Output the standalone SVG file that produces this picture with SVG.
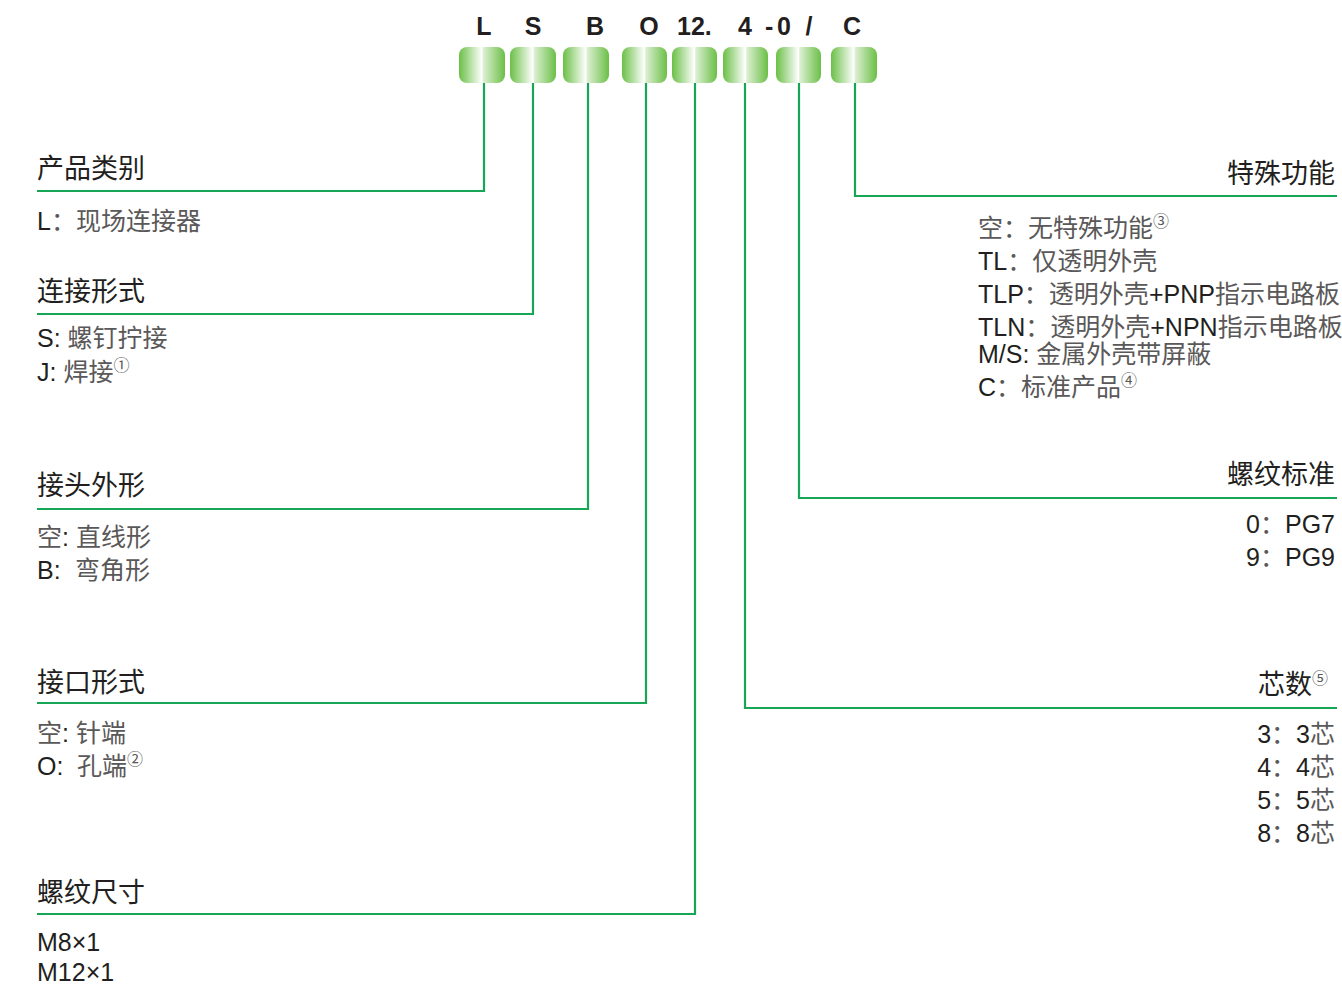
<svg xmlns="http://www.w3.org/2000/svg" width="1342" height="984" viewBox="0 0 1342 984">
<style>
.code{font-family:"Liberation Sans",Arial,sans-serif;font-weight:bold;font-size:25px;fill:#231f20}
.h{font-family:"Liberation Sans","Noto Sans CJK SC",sans-serif;font-size:27px;fill:#231f20}
.it{font-family:"Liberation Sans","Noto Sans CJK SC",sans-serif;font-size:25px;fill:#231f20}
.cj{fill:#5a5858}
.sup{font-size:16px;fill:#5a5858}
.r{text-anchor:end}
.ln{fill:none;stroke:#17a556;stroke-width:2.2}
.box{fill:url(#g)}
</style>
<defs>
<linearGradient id="g" x1="0" y1="0" x2="1" y2="0">
<stop offset="0" stop-color="#6bbf47"/>
<stop offset="0.5" stop-color="#ffffff"/>
<stop offset="0.53" stop-color="#dcefd2"/>
<stop offset="1" stop-color="#6bbf47"/>
</linearGradient>
</defs>

<g id="codes">
<g id="c1"><rect class="box" x="459" y="47" width="46" height="36" rx="8"/><text class="code" x="484" y="35" text-anchor="middle">L</text></g>
<g id="c2"><rect class="box" x="510" y="47" width="46" height="36" rx="8"/><text class="code" x="533" y="35" text-anchor="middle">S</text></g>
<g id="c3"><rect class="box" x="563" y="47" width="46" height="36" rx="8"/><text class="code" x="595" y="35" text-anchor="middle">B</text></g>
<g id="c4"><rect class="box" x="622" y="47" width="45" height="36" rx="8"/><text class="code" x="649" y="35" text-anchor="middle">O</text></g>
<g id="c5"><rect class="box" x="672" y="47" width="45" height="36" rx="8"/><text class="code" x="677" y="35">12.</text></g>
<g id="c6"><rect class="box" x="723" y="47" width="45" height="36" rx="8"/><text class="code" x="745" y="35" text-anchor="middle">4</text></g>
<g id="c7"><rect class="box" x="776" y="47" width="45" height="36" rx="8"/><text class="code" x="765" y="35">-</text><text class="code" x="784" y="35" text-anchor="middle">0</text><text class="code" x="809" y="35" text-anchor="middle">/</text></g>
<g id="c8"><rect class="box" x="831" y="47" width="46" height="36" rx="8"/><text class="code" x="852" y="35" text-anchor="middle">C</text></g>
</g>

<g id="connectors">
<polyline class="ln" points="484,83 484,191 37,191"/>
<polyline class="ln" points="533,83 533,314 37,314"/>
<polyline class="ln" points="588,83 588,509 37,509"/>
<polyline class="ln" points="646,83 646,703 37,703"/>
<polyline class="ln" points="695,83 695,914 37,914"/>
<polyline class="ln" points="745,83 745,708 1337,708"/>
<polyline class="ln" points="799,83 799,498 1337,498"/>
<polyline class="ln" points="855,83 855,196 1337,196"/>
</g>

<g id="sec-category">
<text class="h" x="37" y="178">产品类别</text>
<text class="it" x="37" y="230">L<tspan class="cj">：现场连接器</tspan></text>
</g>

<g id="sec-connection">
<text class="h" x="37" y="301">连接形式</text>
<text class="it" x="37" y="347">S: <tspan class="cj">螺钉拧接</tspan></text>
<text class="it" x="37" y="381">J: <tspan class="cj">焊接</tspan><tspan class="sup" dy="-10">①</tspan></text>
</g>

<g id="sec-head">
<text class="h" x="37" y="495">接头外形</text>
<text class="it" x="37" y="546"><tspan class="cj">空</tspan>: <tspan class="cj">直线形</tspan></text>
<text class="it" x="37" y="579">B:<tspan class="cj" x="75">弯角形</tspan></text>
</g>

<g id="sec-interface">
<text class="h" x="37" y="692">接口形式</text>
<text class="it" x="37" y="742"><tspan class="cj">空</tspan>: <tspan class="cj">针端</tspan></text>
<text class="it" x="37" y="775">O:<tspan class="cj" x="77">孔端</tspan><tspan class="sup" dy="-10">②</tspan></text>
</g>

<g id="sec-thread-size">
<text class="h" x="37" y="902">螺纹尺寸</text>
<text class="it" x="37" y="951">M8×1</text>
<text class="it" x="37" y="981">M12×1</text>
</g>

<g id="sec-special">
<text class="h r" x="1335" y="183">特殊功能</text>
<text class="it" x="978" y="237"><tspan class="cj">空：无特殊功能</tspan><tspan class="sup" dy="-10">③</tspan></text>
<text class="it" x="978" y="270">TL<tspan class="cj">：仅透明外壳</tspan></text>
<text class="it" x="978" y="303">TLP<tspan class="cj">：透明外壳</tspan>+PNP<tspan class="cj">指示电路板</tspan></text>
<text class="it" x="978" y="336">TLN<tspan class="cj">：透明外壳</tspan>+NPN<tspan class="cj">指示电路板</tspan></text>
<text class="it" x="978" y="363">M/S: <tspan class="cj">金属外壳带屏蔽</tspan></text>
<text class="it" x="978" y="396">C<tspan class="cj">：标准产品</tspan><tspan class="sup" dy="-10">④</tspan></text>
</g>

<g id="sec-thread-std">
<text class="h r" x="1335" y="484">螺纹标准</text>
<text class="it r" x="1335" y="533">0<tspan class="cj">：</tspan>PG7</text>
<text class="it r" x="1335" y="566">9<tspan class="cj">：</tspan>PG9</text>
</g>

<g id="sec-cores">
<text class="h r" x="1328" y="694">芯数<tspan class="sup" dy="-10">⑤</tspan></text>
<text class="it r" x="1335" y="743">3<tspan class="cj">：</tspan>3<tspan class="cj">芯</tspan></text>
<text class="it r" x="1335" y="776">4<tspan class="cj">：</tspan>4<tspan class="cj">芯</tspan></text>
<text class="it r" x="1335" y="809">5<tspan class="cj">：</tspan>5<tspan class="cj">芯</tspan></text>
<text class="it r" x="1335" y="842">8<tspan class="cj">：</tspan>8<tspan class="cj">芯</tspan></text>
</g>
</svg>
